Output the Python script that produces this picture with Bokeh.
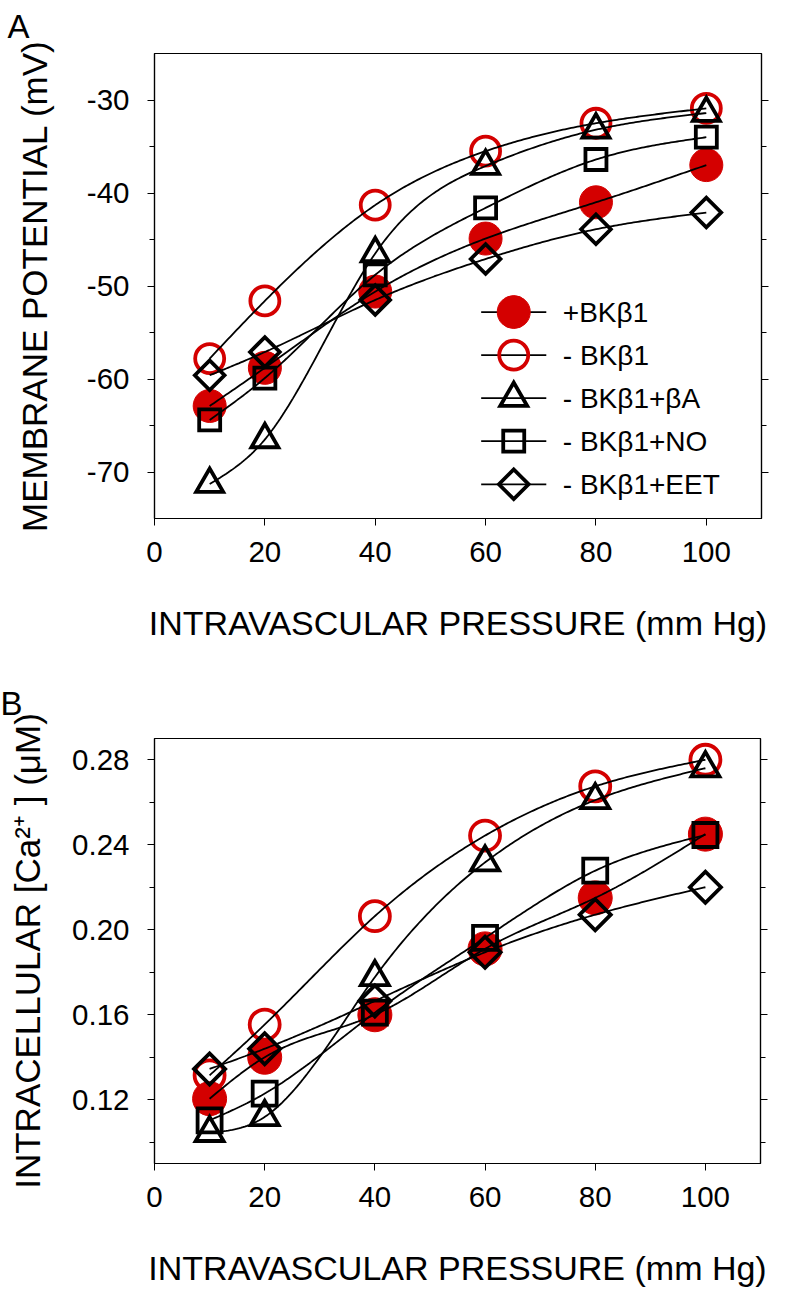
import numpy as np
from bokeh.plotting import figure
from bokeh.layouts import column
from bokeh.models import (LinearAxis, FixedTicker, PrintfTickFormatter,
                          Range1d, CustomJSTickFormatter)
from bokeh.core.properties import value
from bokeh.embed import file_html
from bokeh.resources import INLINE

# ---------------- data ----------------
pressure = [10, 20, 40, 60, 80, 100]
series_labels = ["+BKβ1", "- BKβ1", "- BKβ1+βA", "- BKβ1+NO", "- BKβ1+EET"]

# Panel A: membrane potential (mV)
vm_bk_plus = [-62.9, -58.8, -50.6, -44.9, -41.0, -37.0]
vm_bk_minus = [-57.8, -51.6, -41.3, -35.5, -32.5, -30.9]
vm_ba = [-71.3, -66.5, -46.5, -37.1, -33.2, -31.4]
vm_no = [-64.4, -59.9, -48.8, -41.6, -36.4, -34.0]
vm_eet = [-59.6, -57.1, -51.5, -47.1, -43.9, -42.1]

# Panel B: intracellular [Ca2+] (uM)
ca_bk_plus = [0.1205, 0.140, 0.160, 0.191, 0.215, 0.245]
ca_bk_minus = [0.1315, 0.1554, 0.2064, 0.2443, 0.2675, 0.280]
ca_ba = [0.1044, 0.1119, 0.1777, 0.2317, 0.261, 0.276]
ca_no = [0.1103, 0.1229, 0.161, 0.1962, 0.2278, 0.2446]
ca_eet = [0.1345, 0.144, 0.1665, 0.1894, 0.2071, 0.220]

x_ticks = [0, 20, 40, 60, 80, 100]
vm_ticks = [-70, -60, -50, -40, -30]
vm_minor = [-65, -55, -45, -35]
ca_ticks = [0.12, 0.16, 0.20, 0.24, 0.28]
ca_minor = [0.10, 0.14, 0.18, 0.22, 0.26]

RED = "#d40000"
FONT = "Liberation Sans"


def natural_spline(xs, ys, n=240):
    x = np.asarray(xs, float)
    y = np.asarray(ys, float)
    k = len(x)
    h = np.diff(x)
    A = np.zeros((k, k))
    b = np.zeros(k)
    A[0, 0] = A[-1, -1] = 1.0
    for i in range(1, k - 1):
        A[i, i - 1] = h[i - 1]
        A[i, i] = 2 * (h[i - 1] + h[i])
        A[i, i + 1] = h[i]
        b[i] = 3 * ((y[i + 1] - y[i]) / h[i] - (y[i] - y[i - 1]) / h[i - 1])
    c = np.linalg.solve(A, b)
    xx = np.linspace(x[0], x[-1], n)
    idx = np.clip(np.searchsorted(x, xx, side="right") - 1, 0, k - 2)
    dx = xx - x[idx]
    bc = (y[1:] - y[:-1]) / h - h * (2 * c[:-1] + c[1:]) / 3
    dc = (c[1:] - c[:-1]) / (3 * h)
    yy = y[idx] + bc[idx] * dx + c[idx] * dx ** 2 + dc[idx] * dx ** 3
    return xx, yy


def marker_styles(sq, circ, tri, dia):
    return [
        dict(marker="circle", size=circ + 3, fill_color=RED, line_color=RED, line_width=1),
        dict(marker="circle", size=circ - 1, fill_color=None, line_color=RED, line_width=3.8),
        dict(marker="triangle", size=tri, fill_color=None, line_color="black", line_width=3.8,
             line_join="miter"),
        dict(marker="square", size=sq, fill_color=None, line_color="black", line_width=3.8,
             line_join="miter"),
        dict(marker="square", size=dia, angle=np.pi / 4, fill_color=None, line_color="black",
             line_width=3.8, line_join="miter"),
    ]


def style_axis(ax, title_standoff, label_standoff):
    ax.axis_line_color = "black"
    ax.axis_line_width = 1.2
    ax.major_tick_line_color = "black"
    ax.minor_tick_line_color = "black"
    ax.major_tick_out = 7
    ax.major_tick_in = 0
    ax.minor_tick_out = 5
    ax.minor_tick_in = 0
    ax.major_label_text_font = FONT
    ax.major_label_text_font_size = "29.5px"
    ax.major_label_text_color = "black"
    ax.major_label_standoff = label_standoff
    ax.axis_label_text_font = FONT
    ax.axis_label_text_font_size = "35px"
    ax.axis_label_text_font_style = "normal"
    ax.axis_label_text_color = "black"
    ax.axis_label_standoff = title_standoff


def make_panel(ys_list, yr, yticks, yminor, ylabel, frame_w, frame_h, b_left, b_top,
               b_right, b_bottom, styles, yfmt, ytitle_standoff, letter, letter_offset,
               letter_standoff):
    p = figure(frame_width=frame_w, frame_height=frame_h,
               x_range=Range1d(0, 110), y_range=Range1d(*yr),
               output_backend="svg", toolbar_location=None,
               min_border_left=b_left, min_border_top=b_top,
               min_border_right=b_right, min_border_bottom=b_bottom,
               background_fill_color="white", border_fill_color="white",
               title=letter)
    p.title.align = "left"
    p.title.vertical_align = "top"
    p.title.offset = letter_offset
    p.title.standoff = letter_standoff
    p.title.text_font = FONT
    p.title.text_font_size = "33px"
    p.title.text_font_style = "normal"
    p.title.text_color = "black"

    p.xgrid.visible = False
    p.ygrid.visible = False
    p.outline_line_color = "black"
    p.outline_line_width = 1.2

    p.xaxis.ticker = FixedTicker(ticks=x_ticks, minor_ticks=[])
    p.xaxis.axis_label = "INTRAVASCULAR PRESSURE (mm Hg)"
    style_axis(p.xaxis[0], 39, 16)
    p.xaxis.axis_label_text_font_size = "34px"

    p.yaxis.ticker = FixedTicker(ticks=yticks, minor_ticks=yminor)
    p.yaxis.axis_label = ylabel
    p.yaxis.formatter = yfmt
    style_axis(p.yaxis[0], ytitle_standoff, 18)

    right = LinearAxis(ticker=FixedTicker(ticks=yticks, minor_ticks=yminor),
                       formatter=CustomJSTickFormatter(code="return ''"))
    style_axis(right, 0, 0)
    right.major_label_text_font_size = "1px"
    p.add_layout(right, "right")

    for ys, st in zip(ys_list, styles):
        st = dict(st)
        mk = st.pop("marker")
        p.scatter(pressure, ys, marker=mk, **st)
        xx, yy = natural_spline(pressure, ys)
        p.line(xx, yy, line_color="black", line_width=1.8)
    return p


# ---------------- panel A ----------------
stylesA = marker_styles(sq=21, circ=30, tri=27, dia=21)
pA = make_panel([vm_bk_plus, vm_bk_minus, vm_ba, vm_no, vm_eet], (-75, -25),
                vm_ticks, vm_minor, "MEMBRANE POTENTIAL (mV)",
                frame_w=607, frame_h=465, b_left=147, b_top=53, b_right=20, b_bottom=142,
                styles=stylesA, yfmt=PrintfTickFormatter(format="%d"), ytitle_standoff=30,
                letter="A", letter_offset=-147, letter_standoff=14)

# legend (drawn by hand so that marker sizes match)
leg_x_marker = 65.1
leg_x0, leg_x1 = 59.2, 71.0
leg_x_text = 74.0
leg_y0 = -52.8
leg_dy = 4.63
for i, (lab, st) in enumerate(zip(series_labels, stylesA)):
    yv = leg_y0 - i * leg_dy
    pA.line([leg_x0, leg_x1], [yv, yv], line_color="black", line_width=1.8)
    st = dict(st)
    mk = st.pop("marker")
    pA.scatter([leg_x_marker], [yv], marker=mk, **st)
    pA.text([leg_x_text], [yv], text=[lab], text_font=value(FONT),
            text_font_size="28px", text_baseline="middle", text_align="left",
            text_color="black")

# ---------------- panel B ----------------
stylesB = marker_styles(sq=24, circ=31, tri=28, dia=22)
pB = make_panel([ca_bk_plus, ca_bk_minus, ca_ba, ca_no, ca_eet], (0.09, 0.29),
                ca_ticks, ca_minor, "INTRACELLULAR [Ca²⁺ ] (μM)",
                frame_w=606, frame_h=425, b_left=154, b_top=78, b_right=16, b_bottom=131,
                styles=stylesB, yfmt=PrintfTickFormatter(format="%.2f"), ytitle_standoff=22,
                letter="B", letter_offset=-154, letter_standoff=30)

layout = column(pA, pB, spacing=0)
open("out.html", "w").write(file_html(layout, INLINE))
